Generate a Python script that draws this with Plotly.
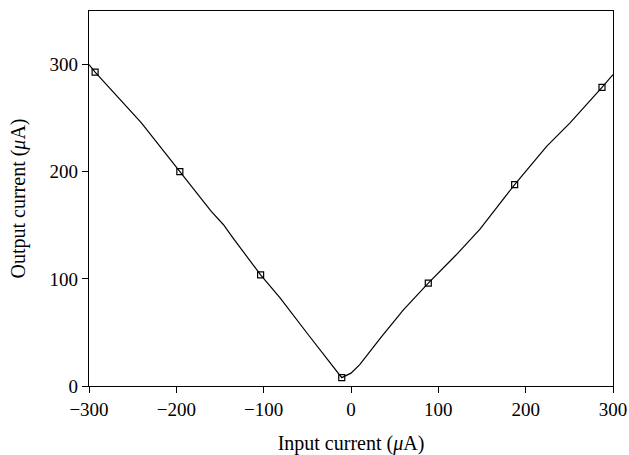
import plotly.graph_objects as go

# Measured curve (continuous trace)
curve_x = [-300, -293, -240, -196, -173, -160, -146, -135, -103.5, -81, -50, -10.6,
           0, 10, 35, 60, 88.5, 120, 147.7, 187.4, 224, 250.8, 287.4, 300]
curve_y = [300, 293, 245.5, 200, 177, 163, 150.5, 138, 103.7, 82, 49, 7.8,
           12, 20, 46, 71, 96, 122, 146.5, 188, 223.6, 245.5, 278.8, 290.7]

# Marked sample points
mark_x = [-293, -196, -103.5, -10.6, 88.5, 187.4, 287.4]
mark_y = [293, 200, 103.7, 7.8, 96, 188, 278.8]

x_ticks = [-300, -200, -100, 0, 100, 200, 300]
y_ticks = [0, 100, 200, 300]

FONT = "Liberation Serif"

fig = go.Figure()
fig.add_trace(go.Scatter(x=curve_x, y=curve_y, mode="lines",
                         line=dict(color="black", width=1.2), showlegend=False,
                         hoverinfo="skip"))
fig.add_trace(go.Scatter(x=mark_x, y=mark_y, mode="markers",
                         marker=dict(symbol="square-open", size=6, color="black",
                                     line=dict(width=1.2, color="black")),
                         showlegend=False))

axis_common = dict(showline=True, linecolor="black", linewidth=1.3, mirror=True,
                   ticks="outside", ticklen=6, tickwidth=1.2, tickcolor="black",
                   showgrid=False, zeroline=False, automargin=False,
                   tickfont=dict(family=FONT, size=19, color="black"))

fig.update_xaxes(range=[-300, 300], tickvals=x_ticks,
                 title=dict(text="Input current (<i>μ</i>A)",
                            font=dict(family=FONT, size=20, color="black"), standoff=18),
                 **axis_common)
fig.update_yaxes(range=[0, 350], tickvals=y_ticks,
                 title=dict(text="Output current (<i>μ</i>A)",
                            font=dict(family=FONT, size=20, color="black"), standoff=18),
                 **axis_common)

fig.update_layout(width=629, height=455,
                  margin=dict(l=89, r=16, t=11, b=69),
                  plot_bgcolor="white", paper_bgcolor="white")

fig.write_html("out.html")
